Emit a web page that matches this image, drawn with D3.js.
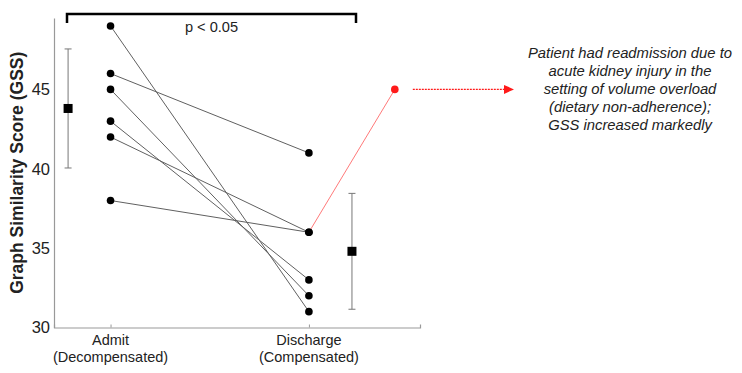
<!DOCTYPE html>
<html>
<head>
<meta charset="utf-8">
<script src="https://cdn.jsdelivr.net/npm/d3@7"></script>
<style>
  body { margin: 0; background: #fff; }
  text { font-family: Arial, "Liberation Sans", sans-serif; fill: #222; }
</style>
</head>
<body>
<div id="cont"></div>
<script>
// data
var stages = ["Admit", "Discharge"];
var stageSub = ["(Decompensated)", "(Compensated)"];
var admitGSS = [49, 46, 45, 43, 42, 38];
var dischargeGSS = [31, 41, 32, 33, 36, 36];
var readmitPatient = 5;       // index of the patient re-admitted
var readmitGSS = 45;
var meanGSS = [43.8, 34.8];
var sdGSS = [3.75, 3.65];
var yTicks = [30, 35, 40, 45];
var pLabel = "p < 0.05";
var note = ["Patient had readmission due to",
            "acute kidney injury in the",
            "setting of volume overload",
            "(dietary non-adherence);",
            "GSS increased markedly"];

var W = 742, H = 373;
var pLeft = 54, pRight = 420, pTop = 18, pBottom = 327.5;

var svg = d3.select("#cont").append("svg")
    .attr("width", W)
    .attr("height", H);

// x: stage 1 = admit, stage 2 = discharge
var x = d3.scaleLinear().domain([0.715, 2.56]).range([pLeft, pRight]);
var y = d3.scaleLinear().domain([30, 49.5]).range([pBottom, pTop]);

var meanOffset = [-0.214, 0.217];
var readmitX = 2.433;

// axes
var yAxis = svg.append("g")
    .attr("transform", "translate(" + pLeft + ",0)")
    .call(d3.axisLeft(y).tickValues(yTicks).tickSize(0).tickPadding(4));
yAxis.select(".domain").attr("stroke", "#999").attr("stroke-width", 1.2);
yAxis.selectAll("text").style("font-size", "16.5px").attr("fill", "#222");

var xAxis = svg.append("g")
    .attr("transform", "translate(0," + pBottom + ")")
    .call(d3.axisBottom(x).tickValues([1, 2]).tickSize(-3).tickFormat(""));
xAxis.select(".domain").attr("stroke", "#999").attr("stroke-width", 1.2);
xAxis.selectAll(".tick line").attr("stroke", "#999");

svg.selectAll(".xlab1").data(stages).enter().append("text")
    .attr("x", function(d, i) { return x(i + 1); })
    .attr("y", 345)
    .attr("text-anchor", "middle")
    .style("font-size", "14.5px")
    .text(function(d) { return d; });
svg.selectAll(".xlab2").data(stageSub).enter().append("text")
    .attr("x", function(d, i) { return x(i + 1); })
    .attr("y", 361.5)
    .attr("text-anchor", "middle")
    .style("font-size", "14.5px")
    .text(function(d) { return d; });

svg.append("text")
    .attr("transform", "translate(23," + (pTop + pBottom) / 2 + ") rotate(-90)")
    .attr("text-anchor", "middle")
    .style("font-size", "17.5px")
    .style("font-weight", "bold")
    .text("Graph Similarity Score (GSS)");

// paired lines
var pairs = admitGSS.map(function(a, i) { return [a, dischargeGSS[i]]; });
svg.selectAll(".pair").data(pairs).enter().append("line")
    .attr("x1", x(1)).attr("x2", x(2))
    .attr("y1", function(d) { return y(d[0]); })
    .attr("y2", function(d) { return y(d[1]); })
    .attr("stroke", "#606060")
    .attr("stroke-width", 1);

// readmission line + arrow
svg.append("line")
    .attr("x1", x(2)).attr("y1", y(dischargeGSS[readmitPatient]))
    .attr("x2", x(readmitX)).attr("y2", y(readmitGSS))
    .attr("stroke", "#ff6a6a").attr("stroke-width", 0.9);
svg.append("circle")
    .attr("cx", x(readmitX)).attr("cy", y(readmitGSS)).attr("r", 3.8)
    .attr("fill", "#ff1a1a");
var ay = y(readmitGSS);
svg.append("line")
    .attr("x1", x(readmitX) + 18).attr("x2", 506)
    .attr("y1", ay).attr("y2", ay)
    .attr("stroke", "#ff1a1a").attr("stroke-width", 1.2)
    .attr("stroke-dasharray", "2,1");
svg.append("path")
    .attr("d", "M504," + (ay - 4.5) + "L514," + ay + "L504," + (ay + 4.5) + "Z")
    .attr("fill", "#ff1a1a");

// points
svg.selectAll(".adm").data(admitGSS).enter().append("circle")
    .attr("cx", x(1)).attr("cy", function(d) { return y(d); })
    .attr("r", 3.8).attr("fill", "#000");
svg.selectAll(".dis").data(dischargeGSS).enter().append("circle")
    .attr("cx", x(2)).attr("cy", function(d) { return y(d); })
    .attr("r", 3.8).attr("fill", "#000");

// mean +/- sd
var stats = meanGSS.map(function(m, i) { return { m: m, sd: sdGSS[i], xp: i + 1 + meanOffset[i] }; });
var eb = svg.selectAll(".eb").data(stats).enter().append("g");
eb.append("line")
    .attr("x1", function(d) { return x(d.xp); }).attr("x2", function(d) { return x(d.xp); })
    .attr("y1", function(d) { return y(d.m + d.sd); })
    .attr("y2", function(d) { return y(d.m - d.sd); })
    .attr("stroke", "#777").attr("stroke-width", 1);
[1, -1].forEach(function(s) {
  eb.append("line")
    .attr("x1", function(d) { return x(d.xp) - 3.5; })
    .attr("x2", function(d) { return x(d.xp) + 3.5; })
    .attr("y1", function(d) { return y(d.m + s * d.sd); })
    .attr("y2", function(d) { return y(d.m + s * d.sd); })
    .attr("stroke", "#777").attr("stroke-width", 1);
});
eb.append("rect")
    .attr("x", function(d) { return x(d.xp) - 4.5; })
    .attr("y", function(d) { return y(d.m) - 4.5; })
    .attr("width", 9).attr("height", 9)
    .attr("fill", "#000");

// significance bracket
svg.append("path")
    .attr("d", "M67,23V14H356V23")
    .attr("fill", "none")
    .attr("stroke", "#000")
    .attr("stroke-width", 2.5);
svg.append("text")
    .attr("x", 211.5).attr("y", 32)
    .attr("text-anchor", "middle")
    .style("font-size", "14.6px")
    .text(pLabel);

// annotation
svg.append("text")
    .attr("x", 630).attr("y", 58)
    .attr("text-anchor", "middle")
    .style("font-size", "14.8px")
    .style("font-style", "italic")
    .selectAll("tspan").data(note).enter().append("tspan")
    .attr("x", 630)
    .attr("dy", function(d, i) { return i ? 18 : 0; })
    .text(function(d) { return d; });
</script>
</body>
</html>
